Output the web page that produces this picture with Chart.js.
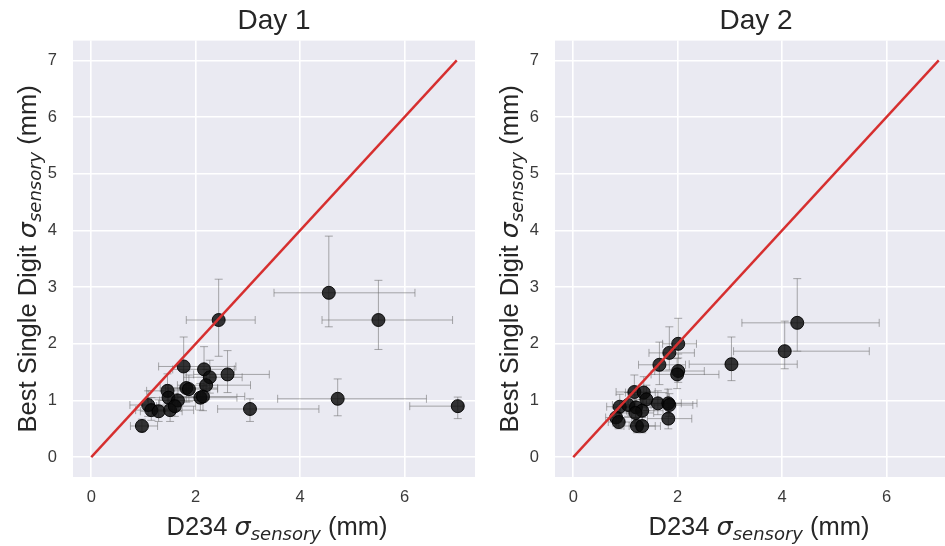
<!DOCTYPE html>
<html>
<head>
<meta charset="utf-8">
<script src="https://cdn.jsdelivr.net/npm/chart.js@4.4.1/dist/chart.umd.min.js"></script>
<style>
  body { margin: 0; background: #fff; width: 945px; height: 546px; overflow: hidden; position: relative; }
  .box { position: absolute; top: 0; width: 490px; height: 546px; }
</style>
</head>
<body>
<div class="box" style="left:0px"><canvas id="day1"></canvas></div>
<div class="box" style="left:482px"><canvas id="day2"></canvas></div>
<script>
// ---- data ----
var xTicks = [0, 2, 4, 6];
var yTicks = [0, 1, 2, 3, 4, 5, 6, 7];
var lineX = [0, 7];
var lineY = [0, 7];

// Day 1: D234 sigma vs best single digit sigma, with asymmetric errors
var day1X    = [4.55, 5.50, 2.44, 4.72, 7.02, 3.04, 2.61, 1.77, 2.16, 2.27, 2.20, 1.82, 1.87, 1.46, 1.48, 1.66, 2.09, 2.14, 1.09, 1.15, 1.29, 1.51, 1.60, 0.97];
var day1Y    = [2.90, 2.42, 2.42, 1.03, 0.90, 0.85, 1.46, 1.60, 1.55, 1.41, 1.27, 1.22, 1.20, 1.17, 1.05, 1.00, 1.05, 1.07, 0.92, 0.83, 0.81, 0.83, 0.90, 0.55];
var day1XLo  = [1.05, 1.08, 0.62, 1.15, 0.92, 0.62, 0.65, 0.48, 0.60, 0.50, 0.55, 0.50, 0.45, 0.40, 0.40, 0.35, 0.45, 0.50, 0.35, 0.30, 0.35, 0.30, 0.35, 0.22];
var day1XHi  = [1.65, 1.42, 0.70, 1.70, 0.10, 1.32, 0.80, 1.00, 0.58, 0.62, 0.85, 0.60, 0.55, 0.50, 0.55, 0.45, 0.70, 0.80, 0.40, 0.40, 0.45, 0.45, 0.40, 0.30];
var day1YLo  = [0.60, 0.52, 0.64, 0.30, 0.22, 0.22, 0.32, 0.40, 0.30, 0.28, 0.25, 0.25, 0.22, 0.22, 0.20, 0.18, 0.22, 0.25, 0.20, 0.18, 0.18, 0.20, 0.18, 0.10];
var day1YHi  = [1.00, 0.70, 0.72, 0.35, 0.16, 0.18, 0.42, 0.52, 0.40, 0.30, 0.28, 0.30, 0.25, 0.30, 0.22, 0.22, 0.25, 0.20, 0.25, 0.22, 0.20, 0.18, 0.22, 0.12];

// Day 2
var day2X    = [4.29, 4.05, 3.03, 2.01, 1.84, 1.65, 2.01, 1.99, 1.17, 1.35, 1.40, 1.62, 1.82, 1.84, 0.89, 1.05, 1.20, 1.32, 1.19, 0.82, 0.87, 1.82, 1.22, 1.32];
var day2Y    = [2.37, 1.87, 1.64, 2.00, 1.84, 1.63, 1.52, 1.46, 1.15, 1.14, 1.02, 0.95, 0.95, 0.92, 0.89, 0.92, 0.88, 0.82, 0.78, 0.70, 0.62, 0.68, 0.55, 0.55];
var day2XLo  = [1.06, 0.98, 0.81, 0.30, 0.39, 0.40, 0.45, 0.50, 0.35, 0.35, 0.30, 0.30, 0.35, 0.35, 0.25, 0.30, 0.30, 0.30, 0.30, 0.20, 0.20, 0.40, 0.25, 0.25];
var day2XHi  = [1.57, 1.62, 1.26, 0.35, 0.48, 0.50, 0.50, 0.80, 0.40, 0.45, 0.40, 0.45, 0.55, 0.45, 0.30, 0.35, 0.35, 0.40, 0.35, 0.30, 0.30, 0.45, 0.35, 0.35];
var day2YLo  = [0.50, 0.31, 0.29, 0.25, 0.30, 0.35, 0.20, 0.25, 0.25, 0.25, 0.20, 0.20, 0.18, 0.20, 0.20, 0.20, 0.18, 0.18, 0.18, 0.15, 0.12, 0.18, 0.12, 0.12];
var day2YHi  = [0.78, 0.53, 0.48, 0.45, 0.46, 0.40, 0.30, 0.28, 0.30, 0.28, 0.25, 0.22, 0.25, 0.20, 0.22, 0.22, 0.22, 0.20, 0.20, 0.18, 0.15, 0.20, 0.15, 0.15];

var textColor = '#262626';
var sansFont = '"Liberation Sans", Arial, sans-serif';
var mathFont = '"DejaVu Sans", sans-serif';

Chart.defaults.font.family = sansFont;
Chart.defaults.color = textColor;

// grey plot background like seaborn darkgrid
var panelBg = {
  id: 'panelBg',
  beforeDraw: function (chart) {
    var a = chart.chartArea, ctx = chart.ctx;
    ctx.save();
    ctx.fillStyle = '#eaeaf2';
    ctx.fillRect(a.left, a.top, a.right - a.left, a.bottom - a.top);
    ctx.restore();
  }
};

// x/y error bars, placed with the chart's scales
var errorBars = {
  id: 'errorBars',
  beforeDatasetsDraw: function (chart, args, opts) {
    var ctx = chart.ctx, a = chart.chartArea;
    var sx = chart.scales.x, sy = chart.scales.y;
    var cap = 4;
    ctx.save();
    ctx.beginPath();
    ctx.rect(a.left, a.top, a.right - a.left, a.bottom - a.top);
    ctx.clip();
    ctx.strokeStyle = 'rgba(105,105,105,0.55)';
    ctx.lineWidth = 1;
    for (var i = 0; i < opts.x.length; i++) {
      var px = sx.getPixelForValue(opts.x[i]);
      var py = sy.getPixelForValue(opts.y[i]);
      var x0 = sx.getPixelForValue(opts.x[i] - opts.xLo[i]);
      var x1 = sx.getPixelForValue(opts.x[i] + opts.xHi[i]);
      var y0 = sy.getPixelForValue(opts.y[i] - opts.yLo[i]);
      var y1 = sy.getPixelForValue(opts.y[i] + opts.yHi[i]);
      ctx.beginPath();
      ctx.moveTo(x0, py); ctx.lineTo(x1, py);
      ctx.moveTo(x0, py - cap); ctx.lineTo(x0, py + cap);
      ctx.moveTo(x1, py - cap); ctx.lineTo(x1, py + cap);
      ctx.moveTo(px, y0); ctx.lineTo(px, y1);
      ctx.moveTo(px - cap, y0); ctx.lineTo(px + cap, y0);
      ctx.moveTo(px - cap, y1); ctx.lineTo(px + cap, y1);
      ctx.stroke();
    }
    ctx.restore();
  }
};

// axis labels with a subscript, which chart.js titles can't do
function sigmaParts(before, after) {
  return [
    { t: before, f: '25.5px ' + sansFont, dy: 0 },
    { t: 'σ', f: 'italic 25.5px ' + mathFont, dy: 0 },
    { t: 'sensory', f: 'italic 18px ' + mathFont, dy: 5 },
    { t: after, f: '25.5px ' + sansFont, dy: 0 }
  ];
}
function drawRich(ctx, parts) {
  var w = 0;
  parts.forEach(function (p) { ctx.font = p.f; p.w = ctx.measureText(p.t).width; w += p.w; });
  var x = -w / 2;
  parts.forEach(function (p) { ctx.font = p.f; ctx.fillText(p.t, x, p.dy); x += p.w; });
}
var axisLabels = {
  id: 'axisLabels',
  afterDraw: function (chart) {
    var ctx = chart.ctx, a = chart.chartArea;
    ctx.save();
    ctx.fillStyle = textColor;
    ctx.textBaseline = 'alphabetic';
    ctx.textAlign = 'left';
    ctx.save();
    ctx.translate((a.left + a.right) / 2 + 3, 535);
    drawRich(ctx, sigmaParts('D234 ', ' (mm)'));
    ctx.restore();
    ctx.save();
    ctx.translate(36, (a.top + a.bottom) / 2);
    ctx.rotate(-Math.PI / 2);
    drawRich(ctx, sigmaParts('Best Single Digit ', ' (mm)'));
    ctx.restore();
    ctx.restore();
  }
};

function makeChart(id, title, xs, ys, xLo, xHi, yLo, yHi) {
  var pts = xs.map(function (v, i) { return { x: v, y: ys[i] }; });
  var diag = lineX.map(function (v, i) { return { x: v, y: lineY[i] }; });
  return new Chart(id, {
    type: 'scatter',
    data: {
      datasets: [
        {
          type: 'line',
          data: diag,
          borderColor: '#d62f2f',
          borderWidth: 2.4,
          pointRadius: 0,
          order: 0
        },
        {
          data: pts,
          backgroundColor: 'rgba(10,10,10,0.82)',
          borderColor: 'rgba(0,0,0,0.9)',
          borderWidth: 1,
          pointRadius: 6.5,
          order: 1
        }
      ]
    },
    plugins: [panelBg, errorBars, axisLabels],
    options: {
      responsive: true,
      maintainAspectRatio: false,
      animation: false,
      layout: { padding: { left: 0, right: 15, top: 0, bottom: 0 } },
      plugins: {
        legend: { display: false },
        tooltip: { enabled: false },
        title: {
          display: true,
          text: title,
          fullSize: false,
          color: textColor,
          font: { size: 28, weight: 'normal' },
          padding: { top: 4, bottom: 3 }
        },
        errorBars: { x: xs, y: ys, xLo: xLo, xHi: xHi, yLo: yLo, yHi: yHi }
      },
      scales: {
        x: {
          type: 'linear',
          min: -0.35,
          max: 7.35,
          afterBuildTicks: function (s) { s.ticks = xTicks.map(function (v) { return { value: v }; }); },
          afterFit: function (s) { s.height = 69; },
          ticks: { font: { size: 16.5 }, color: '#3a3a3a', padding: 11 },
          grid: { color: '#ffffff', lineWidth: 1.6, drawTicks: false },
          border: { display: false }
        },
        y: {
          type: 'linear',
          min: -0.35,
          max: 7.35,
          afterBuildTicks: function (s) { s.ticks = yTicks.map(function (v) { return { value: v }; }); },
          afterFit: function (s) { s.width = 73; },
          ticks: { font: { size: 16.5 }, color: '#3a3a3a', padding: 16 },
          grid: { color: '#ffffff', lineWidth: 1.6, drawTicks: false },
          border: { display: false }
        }
      }
    }
  });
}

makeChart('day1', 'Day 1', day1X, day1Y, day1XLo, day1XHi, day1YLo, day1YHi);
makeChart('day2', 'Day 2', day2X, day2Y, day2XLo, day2XHi, day2YLo, day2YHi);
</script>
</body>
</html>
